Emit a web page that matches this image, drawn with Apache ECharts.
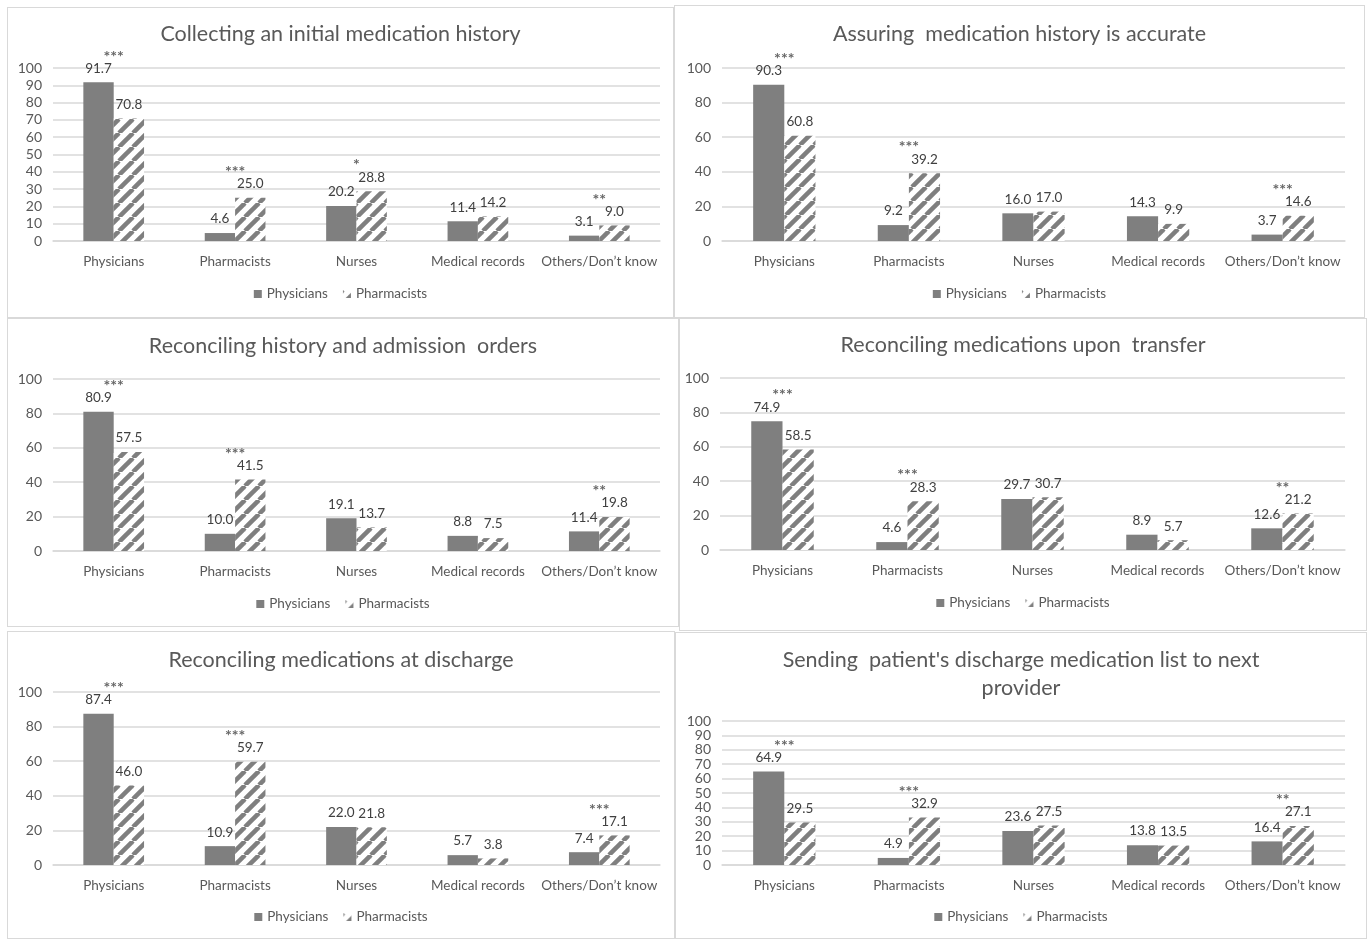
<!DOCTYPE html>
<html><head><meta charset="utf-8">
<script src="https://cdn.jsdelivr.net/npm/echarts/dist/echarts.min.js"></script>
<style>
body{margin:0;background:#fff;width:1370px;height:939px;position:relative;overflow:hidden}
.b{position:absolute;border:1.5px solid #d9d9d9;box-sizing:border-box}
.c{position:absolute}
</style></head><body>
<script>
// ---------- DATA ----------
const categories = ['Physicians', 'Pharmacists', 'Nurses', 'Medical records', 'Others/Don\u2019t know'];
const seriesNames = ['Physicians', 'Pharmacists'];

const title1 = 'Collecting an initial medication history';
const phys1  = [91.7, 4.6, 20.2, 11.4, 3.1];
const pharm1 = [70.8, 25.0, 28.8, 14.2, 9.0];
const sig1   = ['***', '***', '*', '', '**'];

const title2 = 'Assuring  medication history is accurate';
const phys2  = [90.3, 9.2, 16.0, 14.3, 3.7];
const pharm2 = [60.8, 39.2, 17.0, 9.9, 14.6];
const sig2   = ['***', '***', '', '', '***'];

const title3 = 'Reconciling history and admission  orders';
const phys3  = [80.9, 10.0, 19.1, 8.8, 11.4];
const pharm3 = [57.5, 41.5, 13.7, 7.5, 19.8];
const sig3   = ['***', '***', '', '', '**'];

const title4 = 'Reconciling medications upon  transfer';
const phys4  = [74.9, 4.6, 29.7, 8.9, 12.6];
const pharm4 = [58.5, 28.3, 30.7, 5.7, 21.2];
const sig4   = ['***', '***', '', '', '**'];

const title5 = 'Reconciling medications at discharge';
const phys5  = [87.4, 10.9, 22.0, 5.7, 7.4];
const pharm5 = [46.0, 59.7, 21.8, 3.8, 17.1];
const sig5   = ['***', '***', '', '', '***'];

const title6 = "Sending  patient's discharge medication list to next\nprovider";
const phys6  = [64.9, 4.9, 23.6, 13.8, 16.4];
const pharm6 = [29.5, 32.9, 27.5, 13.5, 27.1];
const sig6   = ['***', '***', '', '', '**'];

const yMin = 0, yMax = 100;
const yInterval = [10, 20, 20, 20, 20, 10];

// ---------- LAYOUT ----------
const panels = [
  {box:[7,7,667,311],   grid:{left:46,right:14,top:61,bottom:77}, titleTop:8,  legendTop:275},
  {box:[674,5,691,313], grid:{left:48,right:20,top:63,bottom:77}, titleTop:10, legendTop:277},
  {box:[7,318,672,309], grid:{left:46,right:19,top:61,bottom:76}, titleTop:9,  legendTop:274},
  {box:[679,318,688,313],grid:{left:41,right:22,top:60,bottom:81}, titleTop:8,  legendTop:273},
  {box:[7,631,668,308], grid:{left:46,right:15,top:61,bottom:74}, titleTop:10, legendTop:274},
  {box:[675,632,692,307],grid:{left:47,right:22,top:89,bottom:74}, titleTop:9,  legendTop:273}
];
const data = [
  [title1, phys1, pharm1, sig1],
  [title2, phys2, pharm2, sig2],
  [title3, phys3, pharm3, sig3],
  [title4, phys4, pharm4, sig4],
  [title5, phys5, pharm5, sig5],
  [title6, phys6, pharm6, sig6]
];

const FONT = 'Lato, "Open Sans", sans-serif';
const GRAY = '#7f7f7f';

function hatch(){
  const s = 14, c = document.createElement('canvas');
  c.width = s; c.height = s;
  const g = c.getContext('2d');
  g.fillStyle = '#fff'; g.fillRect(0,0,s,s);
  g.strokeStyle = GRAY; g.lineWidth = 4.5;
  for (const k of [-s, 0, s]) { g.beginPath(); g.moveTo(k, s); g.lineTo(k + s, 0); g.stroke(); }
  return c;
}
const hatchImg = hatch();

panels.forEach((p, i) => {
  const [x, y, w, h] = p.box;
  const b = document.createElement('div');
  b.className = 'b';
  b.style.cssText = `left:${x}px;top:${y}px;width:${w}px;height:${h}px`;
  document.body.appendChild(b);
  const d = document.createElement('div');
  d.className = 'c';
  d.style.cssText = `left:${x}px;top:${y}px;width:${w}px;height:${h}px`;
  document.body.appendChild(d);

  const [title, phys, pharm, sig] = data[i];
  const chart = echarts.init(d, null, {renderer: 'canvas'});
  const labelCfg = {show: true, position: 'top', distance: 7, fontFamily: FONT, fontSize: 13.5, color: '#404040',
                    formatter: q => q.value.toFixed(1)};
  chart.setOption({
    animation: false,
    textStyle: {fontFamily: FONT},
    title: {text: title, left: 'center', top: p.titleTop,
            textStyle: {fontFamily: FONT, fontSize: 21.5, fontWeight: 'normal', color: '#595959', lineHeight: 28}},
    legend: {data: seriesNames, top: p.legendTop, left: 'center', itemWidth: 8, itemHeight: 8, itemGap: 15,
             icon: 'rect', textStyle: {fontFamily: FONT, fontSize: 13.5, color: '#595959'}},
    grid: p.grid,
    xAxis: {type: 'category', data: categories,
            axisLine: {lineStyle: {color: '#d9d9d9', width: 1.5}}, axisTick: {show: false},
            axisLabel: {fontFamily: FONT, fontSize: 13.5, color: '#595959', margin: 14, interval: 0}},
    yAxis: {type: 'value', min: yMin, max: yMax, interval: yInterval[i],
            axisLine: {show: false}, axisTick: {show: false},
            splitLine: {lineStyle: {color: '#d9d9d9', width: 1.5}},
            axisLabel: {fontFamily: FONT, fontSize: 14, color: '#595959', margin: 11}},
    series: [
      {name: seriesNames[0], type: 'bar', data: phys, barGap: '0%', barCategoryGap: '50%',
       itemStyle: {color: GRAY}, label: labelCfg},
      {name: seriesNames[1], type: 'bar', data: pharm, barGap: '0%', barCategoryGap: '50%',
       itemStyle: {color: {image: hatchImg, repeat: 'repeat'}}, label: labelCfg},
      {name: 'sig', type: 'scatter', symbolSize: 1, itemStyle: {color: 'rgba(0,0,0,0)'},
       data: sig.map((s, k) => s ? {value: Math.max(phys[k], pharm[k]), sig: s} : '-'),
       label: {show: true, position: 'inside', offset: [0, -26], fontFamily: FONT, fontSize: 16,
               fontWeight: 'bold', color: '#404040', formatter: q => q.data.sig}}
    ]
  });
});
</script>
</body></html>
